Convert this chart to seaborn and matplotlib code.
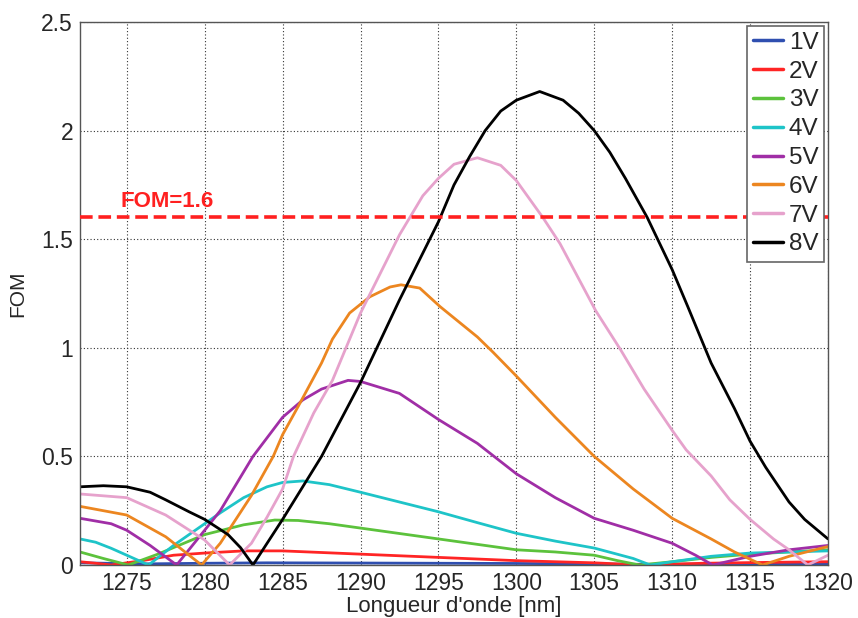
import numpy as np
import pandas as pd
import matplotlib
matplotlib.use("Agg")
import matplotlib.pyplot as plt
import seaborn as sns

# ---------------- data ----------------
labels = ["1V", "2V", "3V", "4V", "5V", "6V", "7V", "8V"]
colors = ["#2f4fb0", "#ff2525", "#5cc23c", "#1ec4c8", "#a02ea6", "#ec8620", "#e6a2cc", "#000000"]

wl_1V = [1272, 1276, 1280, 1284, 1290, 1295, 1300, 1305, 1308, 1312, 1316, 1320]
fom_1V = [0.010, 0.005, 0.008, 0.010, 0.009, 0.008, 0.007, 0.005, 0.003, 0.004, 0.005, 0.006]

wl_2V = [1272, 1273, 1274, 1276, 1278, 1280, 1282.5, 1285, 1290, 1295, 1300, 1305, 1308, 1312, 1316, 1320]
fom_2V = [0.015, 0.008, 0.0, 0.02, 0.045, 0.055, 0.065, 0.065, 0.05, 0.035, 0.02, 0.01, 0.0, 0.008, 0.012, 0.015]

wl_3V = [1272, 1273.5, 1275.1, 1277, 1279, 1280, 1282.5, 1284.5, 1286, 1288, 1290, 1292.5, 1295,
         1297.5, 1300, 1302.5, 1305, 1306.5, 1307.9, 1310, 1312.5, 1315, 1317.5, 1320]
fom_3V = [0.06, 0.03, 0.0, 0.05, 0.11, 0.14, 0.185, 0.207, 0.205, 0.19, 0.17, 0.145, 0.12,
          0.095, 0.07, 0.06, 0.045, 0.02, 0.0, 0.015, 0.035, 0.05, 0.06, 0.07]

wl_4V = [1272, 1273, 1274, 1275, 1276.4, 1278, 1280, 1281, 1282.5, 1284, 1285, 1286.3, 1288, 1290,
         1292.5, 1295, 1297.5, 1300, 1302.5, 1305, 1307.5, 1308.6, 1310, 1312.5, 1315, 1320]
fom_4V = [0.12, 0.105, 0.077, 0.045, 0.0, 0.09, 0.19, 0.24, 0.31, 0.36, 0.38, 0.387, 0.37, 0.335,
          0.29, 0.245, 0.195, 0.146, 0.11, 0.078, 0.03, 0.0, 0.015, 0.04, 0.055, 0.065]

wl_5V = [1272, 1274, 1275, 1276.5, 1278.2, 1280, 1281, 1283.1, 1285, 1286.3, 1287.5, 1289.2, 1290,
         1292.5, 1295, 1297.5, 1300, 1302.5, 1305, 1307.5, 1310, 1311.5, 1312.6, 1315, 1317.5, 1320]
fom_5V = [0.215, 0.19, 0.16, 0.09, 0.0, 0.16, 0.25, 0.5, 0.68, 0.76, 0.81, 0.85, 0.845,
          0.79, 0.67, 0.56, 0.42, 0.31, 0.215, 0.16, 0.10, 0.045, 0.0, 0.04, 0.07, 0.09]

wl_6V = [1272, 1275, 1277.5, 1279.8, 1281, 1283, 1284.4, 1285, 1286, 1286.3, 1287.5, 1288.2,
         1289.3, 1290.6, 1291.9, 1292.6, 1293.8, 1295.1, 1297.5, 1298.5, 1300, 1302.5, 1305,
         1307.5, 1310, 1312.5, 1314, 1315.8, 1317.5, 1320]
fom_6V = [0.27, 0.23, 0.13, 0.0, 0.1, 0.32, 0.5, 0.60, 0.73, 0.77, 0.93, 1.04,
          1.16, 1.235, 1.28, 1.29, 1.275, 1.19, 1.05, 0.98, 0.87, 0.68, 0.50,
          0.35, 0.215, 0.12, 0.06, 0.0, 0.04, 0.085]

wl_7V = [1272, 1275, 1277.5, 1280, 1281.6, 1283, 1284, 1285, 1285.7, 1287, 1288.2, 1290, 1292.5,
         1294, 1295, 1296, 1297.5, 1299, 1300, 1301.7, 1302.8, 1305.1, 1306.7, 1308.2, 1310,
         1310.9, 1312.5, 1313.7, 1315, 1316.5, 1317.5, 1318.7, 1320]
fom_7V = [0.327, 0.31, 0.23, 0.115, 0.0, 0.10, 0.22, 0.35, 0.5, 0.70, 0.85, 1.16, 1.52,
          1.70, 1.78, 1.845, 1.875, 1.84, 1.77, 1.6, 1.48, 1.17, 0.99, 0.81, 0.62,
          0.53, 0.41, 0.30, 0.21, 0.12, 0.07, 0.0, 0.045]

wl_8V = [1272, 1273.5, 1275, 1276.5, 1277.5, 1279, 1280, 1281.5, 1282.3, 1283.1, 1285, 1287.5,
         1290, 1292.5, 1295, 1296, 1297, 1298, 1299, 1300, 1301.5, 1303, 1304, 1305, 1306,
         1307, 1308.4, 1310, 1311, 1312.5, 1314, 1315, 1316, 1317.5, 1318.5, 1320]
fom_8V = [0.36, 0.365, 0.36, 0.335, 0.30, 0.245, 0.21, 0.14, 0.08, 0.0, 0.21, 0.5,
          0.84, 1.22, 1.58, 1.75, 1.88, 2.0, 2.09, 2.14, 2.18, 2.14, 2.08, 2.0, 1.9,
          1.78, 1.6, 1.36, 1.19, 0.93, 0.72, 0.57, 0.45, 0.29, 0.21, 0.12]

threshold = 1.6
threshold_label = "FOM=1.6"
x_ticks = [1275, 1280, 1285, 1290, 1295, 1300, 1305, 1310, 1315, 1320]
y_ticks = [0, 0.5, 1, 1.5, 2, 2.5]
y_ticklabels = ["0", "0.5", "1", "1.5", "2", "2.5"]

series = [(wl_1V, fom_1V), (wl_2V, fom_2V), (wl_3V, fom_3V), (wl_4V, fom_4V),
          (wl_5V, fom_5V), (wl_6V, fom_6V), (wl_7V, fom_7V), (wl_8V, fom_8V)]

frames = []
for lab, (w, f) in zip(labels, series):
    frames.append(pd.DataFrame({"wl": w, "fom": f, "V": lab}))
df = pd.concat(frames, ignore_index=True)

# ---------------- plot ----------------
sns.set_theme(style="white")
plt.rcParams["font.family"] = ["Liberation Sans", "DejaVu Sans"]

fig = plt.figure(figsize=(8.58, 6.18), dpi=100)
ax = fig.add_axes([80 / 858, 53 / 618, 748 / 858, 543 / 618])

sns.lineplot(data=df, x="wl", y="fom", hue="V", hue_order=labels,
             palette=dict(zip(labels, colors)), estimator=None, sort=True,
             linewidth=2.0, ax=ax, legend=True)

ax.axhline(threshold, color="#ff2020", linestyle=(0, (3.5, 1.6)), linewidth=2.6, zorder=3)
ax.text(1274.6, threshold + 0.025, threshold_label, color="#ff2020", fontsize=16,
        fontweight="bold", ha="left", va="bottom")

ax.set_xlim(1272, 1320)
ax.set_ylim(0, 2.5)
ax.set_xticks(x_ticks)
ax.set_xticklabels([str(t) for t in x_ticks])
ax.set_yticks(y_ticks)
ax.set_yticklabels(y_ticklabels)
ax.tick_params(direction="in", length=5, labelsize=16.5, color="#444444", pad=5)
ax.grid(True, linestyle=(0, (1, 2)), color="#333333", linewidth=0.8)
for s in ax.spines.values():
    s.set_color("#555555")
    s.set_linewidth(1.0)

ax.set_xlabel("Longueur d'onde [nm]", fontsize=16, labelpad=1)
ax.set_ylabel("FOM", fontsize=15, labelpad=10)

handles, _ = ax.get_legend_handles_labels()
leg = ax.legend(handles=handles[:8], labels=labels, loc="upper right", fontsize=17.5,
                frameon=True, fancybox=False, edgecolor="#666666", framealpha=1,
                handlelength=1.2, handletextpad=0.25, labelspacing=0.28,
                borderaxespad=0.15, borderpad=0.25)
leg.get_frame().set_linewidth(1.2)
for line in leg.get_lines():
    line.set_linewidth(2.5)

fig.savefig("out.png", dpi=100)
